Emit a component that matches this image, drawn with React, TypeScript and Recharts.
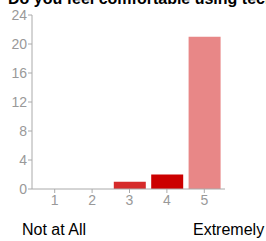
import React from "react";
import { BarChart, Bar, XAxis, YAxis, Cell } from "recharts";

const categories = ["1", "2", "3", "4", "5"];
const counts = [0, 0, 1, 2, 21];
const barColors = ["#cc0000", "#cc0000", "#d62a2a", "#cc0000", "#e88787"];
const yTicks = [0, 4, 8, 12, 16, 20, 24];
const title = "Do you feel comfortable using technology?";
const lowLabel = "Not at All";
const highLabel = "Extremely";

const data = categories.map((c, i) => ({ name: c, value: counts[i] }));

const font = "'Liberation Sans', Arial, sans-serif";

export default function App() {
  return (
    <div
      style={{
        position: "absolute",
        left: 0,
        top: 0,
        width: 266,
        height: 241,
        overflow: "hidden",
        background: "#fff",
        fontFamily: font,
      }}
    >
      <BarChart
        width={266}
        height={241}
        data={data}
        margin={{ top: 15, right: 41, bottom: 0, left: 0 }}
        barSize={32}
      >
        <XAxis
          dataKey="name"
          height={52}
          padding={{ left: 4, right: 2 }}
          tickSize={4}
          tickMargin={2}
          stroke="#aaa"
          tick={{ fill: "#999", fontSize: 14, fontFamily: font }}
          tickLine={{ stroke: "#aaa" }}
          axisLine={{ stroke: "#aaa" }}
        />
        <YAxis
          width={32}
          domain={[0, 24]}
          ticks={yTicks}
          interval={0}
          tickSize={4}
          tickMargin={1}
          tick={{ fill: "#999", fontSize: 14, fontFamily: font }}
          tickLine={{ stroke: "#aaa" }}
          axisLine={{ stroke: "#aaa" }}
        />
        <Bar dataKey="value" isAnimationActive={false}>
          {data.map((d, i) => (
            <Cell key={d.name} fill={barColors[i]} />
          ))}
        </Bar>
      </BarChart>
      <svg
        width={266}
        height={241}
        style={{ position: "absolute", left: 0, top: 0, pointerEvents: "none" }}
      >
        <text x={8} y={4} fontSize={16} fontWeight="bold" fill="#000" fontFamily={font}>
          {title}
        </text>
        <text x={22} y={235} fontSize={16} fill="#000" fontFamily={font}>
          {lowLabel}
        </text>
        <text x={193} y={235} fontSize={16} fill="#000" fontFamily={font}>
          {highLabel}
        </text>
      </svg>
    </div>
  );
}
